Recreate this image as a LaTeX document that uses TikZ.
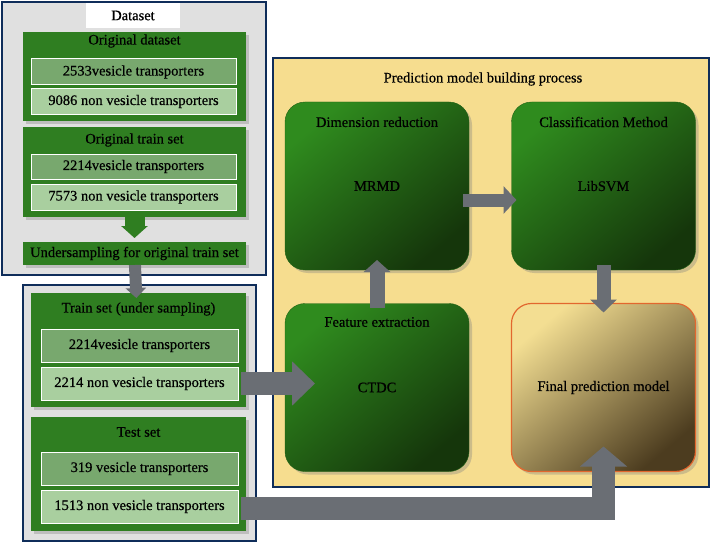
\documentclass[tikz,border=0pt]{standalone}
\usepackage{fontspec}
\setmainfont{Liberation Serif}[FakeBold=0.5]
\usetikzlibrary{arrows.meta,shadows,positioning}
\definecolor{navy}{HTML}{0F2D5A}
\definecolor{framegray}{HTML}{E0E0E0}
\definecolor{boxgreen}{HTML}{2F7E21}
\definecolor{countdark}{HTML}{78A86E}
\definecolor{countlight}{HTML}{A9CF9F}
\definecolor{panelyellow}{HTML}{F6DD8F}
\definecolor{greenlight}{HTML}{2F8B1E}
\definecolor{greendark}{HTML}{15360B}
\definecolor{finallight}{HTML}{F3DE92}
\definecolor{finaldark}{HTML}{4C3C1F}
\definecolor{finalborder}{HTML}{E2672E}
\definecolor{arrowgray}{HTML}{6A6E74}
\tikzset{frame node/.style={draw=navy, line width=2.5pt, inner sep=0pt, outer sep=0pt}}
\tikzset{group node/.style={fill=boxgreen, inner sep=0pt, outer sep=0pt,
    drop shadow={shadow xshift=3pt, shadow yshift=-3pt, opacity=0.35}}}
\tikzset{count node/.style={draw=white, line width=1pt, inner sep=0pt, outer sep=0pt}}
\tikzset{title node/.style={inner sep=0pt}}
\tikzset{stage node/.style={rounded corners=20pt, minimum width=184pt, minimum height=168pt,
    inner sep=0pt, outer sep=0pt, draw=greenlight!70!black, top color=greenlight,
    bottom color=greendark, shading angle=40,
    drop shadow={shadow xshift=3pt, shadow yshift=-3pt, opacity=0.35}}}
\tikzset{final node/.style={stage node, draw=finalborder, line width=1.2pt,
    top color=finallight, bottom color=finaldark, shading angle=40}}
\tikzset{block edge/.style={draw=arrowgray, line width=#1, line join=miter}}

\begin{document}
\begin{tikzpicture}[x=1pt, y=-1pt, font=\fontsize{14.5}{16}\selectfont]
  \useasboundingbox (0,0) rectangle (710,543);

  % dataset part
  \node [frame node, fill=framegray, minimum width=264pt, minimum height=273pt] (dataframe) at (134,138.5) {};
  \node [fill=white, inner sep=0pt, minimum width=94pt, minimum height=25pt] (datalabel) at (133,15.5) {Dataset};

  \node [group node, minimum width=223pt, minimum height=89pt] (origds)   at (134.5, 76.5) {};
  \node [title node]                                           (origdsT)  at (134.5, 41) {Original dataset};
  \node [count node, fill=countdark, minimum width=205pt, minimum height=26pt]  (origds1) at (133.5, 72) {2533vesicle transporters};
  \node [count node, fill=countlight, minimum width=205pt, minimum height=25pt] (origds2) at (133.5, 101.5) {9086 non vesicle transporters};

  \node [group node, minimum width=223pt, minimum height=90pt] (origtr)   at (134.5, 172) {};
  \node [title node]                                           (origtrT)  at (134.5, 140) {Original train set};
  \node [count node, fill=countdark, minimum width=205pt, minimum height=25pt]  (origtr1) at (133.5, 166.5) {2214vesicle transporters};
  \node [count node, fill=countlight, minimum width=205pt, minimum height=26pt] (origtr2) at (133.5, 197) {7573 non vesicle transporters};

  \node [group node, minimum width=223pt, minimum height=23pt] (under)    at (134.5, 253.5) {Undersampling for original train set};

  % train and test part
  \node [frame node, fill=framegray, minimum width=233pt, minimum height=256pt] (splitframe) at (139.5, 413) {};

  \node [group node, minimum width=215pt, minimum height=114pt] (trainset)  at (138.5, 350) {};
  \node [title node]                                            (trainsetT) at (138.5, 309) {Train set (under sampling)};
  \node [count node, fill=countdark, minimum width=197pt, minimum height=33pt]  (train1) at (139.5, 345.5) {2214vesicle transporters};
  \node [count node, fill=countlight, minimum width=197pt, minimum height=33pt] (train2) at (139.5, 383.5) {2214 non vesicle transporters};

  \node [group node, minimum width=215pt, minimum height=114pt] (testset)  at (138.5, 474) {};
  \node [title node]                                            (testsetT) at (138.5, 432) {Test set};
  \node [count node, fill=countdark, minimum width=197pt, minimum height=33pt]  (test1) at (139.5, 468.5) {319 vesicle transporters};
  \node [count node, fill=countlight, minimum width=197pt, minimum height=33pt] (test2) at (139.5, 506.5) {1513 non vesicle transporters};

  % prediction model part
  \node [frame node, fill=panelyellow, minimum width=436pt, minimum height=429pt] (panel) at (491, 272.5) {};
  \node [title node] (panelT) at (483, 79) {Prediction model building process};

  \node [stage node] (dimbox)   at (377, 186)   {MRMD};
  \node [title node] (dimboxT)  at (377, 122)   {Dimension reduction};
  \node [stage node] (classbox) at (603.5, 186) {LibSVM};
  \node [title node] (classboxT) at (603.5, 122) {Classification Method};
  \node [stage node] (featbox)  at (377, 387.5) {CTDC};
  \node [title node] (featboxT) at (377, 322)   {Feature extraction};
  \node [final node] (finalbox) at (603.5, 387.5) {Final prediction model};

  % arrows
  \draw [draw=boxgreen, line width=20pt, -{Triangle[width=26pt,length=12pt]}, shorten >=4pt] (origtr) -- (under);
  \draw [block edge=12pt, -{Triangle[width=20pt,length=10pt]}, shorten >=-5pt] (under) -- (trainset);
  \draw [block edge=13pt, -{Triangle[width=27pt,length=13pt]}, shorten <=-6pt, shorten >=-5pt]
    ([yshift=-14pt]dimbox.east) -- ([yshift=-14pt]classbox.west);
  \draw [block edge=15pt, -{Triangle[width=26pt,length=12pt]}, shorten <=-4pt, shorten >=-10pt] (featbox) -- (dimbox);
  \draw [block edge=14pt, -{Triangle[width=26pt,length=13pt]}, shorten <=-5pt, shorten >=-9pt] (classbox) -- (finalbox);
  \draw [block edge=23pt, -{Triangle[width=43pt,length=23pt]}, shorten <=3pt, shorten >=-30pt]
    (train2.east) -- (train2.east -| featbox.west);
  \draw [block edge=23pt, -{Triangle[width=46pt,length=20pt]}, shorten <=3pt, shorten >=-25pt]
    ([yshift=-2pt]test2.east) -| (finalbox.south);
\end{tikzpicture}
\end{document}
